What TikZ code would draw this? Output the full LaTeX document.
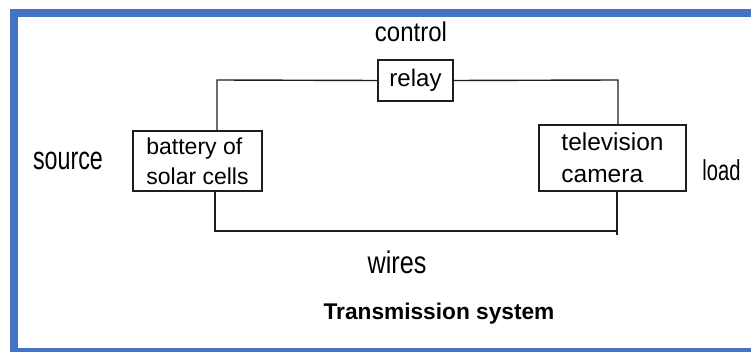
\documentclass[tikz,border=0pt]{standalone}
\usepackage{fontspec}
\setmainfont{Liberation Sans}
\definecolor{frameblue}{HTML}{4472C4}
\definecolor{ink}{HTML}{1E1E1E}
\tikzset{
  blockbox/.style={draw=ink, line width=1.4pt, inner sep=0pt, align=left,
    font=\fontsize{24}{31}\selectfont},
  lbl/.style={anchor=base, inner sep=0pt, font=\fontsize{24}{28}\selectfont},
  wire/.style={draw=ink, line width=1.4pt},
}
\begin{document}
\begin{tikzpicture}[x=1pt, y=-1pt]
\useasboundingbox (0,0) rectangle (751,352);
% frame
\fill[frameblue] (10,9) rectangle (18,352);
\fill[frameblue] (10,9) rectangle (751,17);
\fill[frameblue] (10,348) rectangle (751,352);
% blocks
\node[blockbox, minimum width=75pt, minimum height=41pt] (relay) at (415.5,80.5) {relay};
\node[blockbox, minimum width=129pt, minimum height=60pt, font=\fontsize{23}{30}\selectfont] (bat) at (197.5,161) {battery of\\solar cells};
\node[blockbox, minimum width=147pt, minimum height=66pt, font=\fontsize{24.5}{32}\selectfont] (tv) at (612.5,158) {television\\camera};
% labels
\node[lbl] (control) at (411,41.7) {\scalebox{1}[1.13]{control}};
\node[lbl] (source) at (68,170) {\scalebox{0.97}[1.35]{source}};
\node[lbl] (load) at (721.5,181) {\scalebox{0.84}[1.2]{load}};
\node[lbl] (wires) at (397,273) {\scalebox{1.05}[1.3]{wires}};
\node[lbl, font=\fontsize{22.7}{26}\selectfont\bfseries] (title) at (439,319) {Transmission system};
% wires
\coordinate (tl) at (217,80);
\coordinate (tr) at (618,80);
\coordinate (bl) at (215,231);
\coordinate (br) at (617,231);
\coordinate (brt) at (617,235);
\draw[wire] (relay.west) -- (tl) -- (tl |- bat.north);
\draw[wire] (relay.east) -- (tr) -- (tr |- tv.north);
\draw[wire] (bl |- bat.south) -- (bl) -- (br);
\draw[wire] (brt) -- (br |- tv.south);
\end{tikzpicture}
\end{document}
